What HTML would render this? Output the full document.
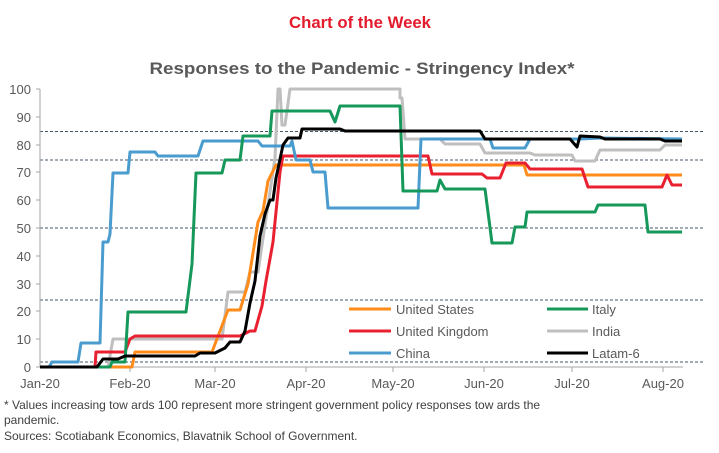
<!DOCTYPE html>
<html><head><meta charset="utf-8"><style>
html,body{margin:0;padding:0;background:#fff;}
svg{display:block;font-family:"Liberation Sans",Arial,sans-serif;}
</style></head><body>
<svg width="719" height="453" viewBox="0 0 719 453" xmlns="http://www.w3.org/2000/svg">
<text x="360" y="28" text-anchor="middle" font-size="17" font-weight="bold" fill="#e31b2d" textLength="142" lengthAdjust="spacingAndGlyphs">Chart of the Week</text>
<text x="362" y="74" text-anchor="middle" font-size="17" font-weight="bold" fill="#595959" textLength="425" lengthAdjust="spacingAndGlyphs">Responses to the Pandemic  - Stringency Index*</text>
<g stroke="#44546a" stroke-width="1" stroke-dasharray="3,2">
<line x1="40" y1="131.5" x2="703" y2="131.5"/>
<line x1="40" y1="160" x2="703" y2="160"/>
<line x1="40" y1="228" x2="703" y2="228"/>
<line x1="40" y1="300" x2="703" y2="300"/>
<line x1="40" y1="362" x2="703" y2="362"/>
</g>
<g stroke="#a6a6a6" stroke-width="1">
<line x1="40" y1="89" x2="40" y2="367"/>
<line x1="40" y1="367" x2="683" y2="367"/>
<line x1="36" y1="89" x2="40" y2="89"/><line x1="36" y1="117" x2="40" y2="117"/><line x1="36" y1="145" x2="40" y2="145"/><line x1="36" y1="172" x2="40" y2="172"/><line x1="36" y1="200" x2="40" y2="200"/><line x1="36" y1="228" x2="40" y2="228"/><line x1="36" y1="256" x2="40" y2="256"/><line x1="36" y1="284" x2="40" y2="284"/><line x1="36" y1="311" x2="40" y2="311"/><line x1="36" y1="339" x2="40" y2="339"/><line x1="36" y1="367" x2="40" y2="367"/>
<line x1="130" y1="367" x2="130" y2="372"/><line x1="215" y1="367" x2="215" y2="372"/><line x1="306" y1="367" x2="306" y2="372"/><line x1="393" y1="367" x2="393" y2="372"/><line x1="484" y1="367" x2="484" y2="372"/><line x1="572" y1="367" x2="572" y2="372"/><line x1="663" y1="367" x2="663" y2="372"/>
</g>
<g font-size="13" fill="#595959" text-anchor="end">
<text x="31" y="94">100</text><text x="31" y="122">90</text><text x="31" y="150">80</text><text x="31" y="177">70</text><text x="31" y="205">60</text><text x="31" y="233">50</text><text x="31" y="261">40</text><text x="31" y="289">30</text><text x="31" y="316">20</text><text x="31" y="344">10</text><text x="31" y="372">0</text>
</g>
<g font-size="13" fill="#595959" text-anchor="middle">
<text x="40" y="388">Jan-20</text><text x="130" y="388">Feb-20</text><text x="215" y="388">Mar-20</text><text x="306" y="388">Apr-20</text><text x="393" y="388">May-20</text><text x="484" y="388">Jun-20</text><text x="572" y="388">Jul-20</text><text x="663" y="388">Aug-20</text>
</g>
<g fill="none" stroke-width="3" stroke-linejoin="round">
<polyline stroke="#bfbfbf" points="40,367 108,367 113,339 222,339 228,292 245,292 250,272 258,272 275,158 278,89 280,89 282,125 285,125 290,89 400,89 400,98 402,98 405,139 440,139 445,144 480,144 485,153 530,153 535,155 572,155 575,161 595,161 600,150 660,150 665,145 682,145"/>
<polyline stroke="#ff8c1a" points="40,367 132,367 135,352 212,352 228,310 240,310 248,284 258,222 263,211 268,181 276,165 524,165 527,175 682,175"/>
<polyline stroke="#e8202f" points="40,367 95,367 96,352 125,352 130,339 135,336 240,336 250,331 255,331 262,306 266,281 273,242 280,172 283,156 428,156 432,174 482,174 487,178 500,178 506,163 525,163 530,169 582,169 588,187 662,187 667,175 672,185 682,185"/>
<polyline stroke="#4a9ccf" points="40,367 49,367 52,362 78,362 81,343 100,343 103,242 108,242 110,234 113,173 128,173 130,152 155,152 158,156 198,156 203,141 258,141 262,146 290,146 292,141 296,160 310,160 313,172 325,172 328,208 418,208 421,139 490,139 493,148 525,148 530,139 580,139 600,138 682,139"/>
<polyline stroke="#16985a" points="40,367 110,367 112,362 125,362 128,312 186,312 192,264 196,173 222,173 225,160 240,160 243,136 270,136 272,111 330,111 335,122 340,106 400,106 403,191 437,191 440,180 445,189 485,189 492,243 512,243 515,227 525,227 527,212 595,212 598,205 645,205 648,232 682,232"/>
<polyline stroke="#000000" points="40,367 97,367 103,359 118,359 125,356 195,356 200,353 215,353 225,348 230,342 240,342 245,331 250,303 255,281 260,236 265,214 270,200 273,200 276,178 283,145 288,138 300,138 302,129 340,129 345,131 480,131 485,139 570,139 577,147 580,136 600,137 605,139 660,139 665,141 682,141"/>
</g>
<g stroke-width="3">
<line x1="349" y1="309" x2="391" y2="309" stroke="#ff8c1a"/>
<line x1="349" y1="331" x2="391" y2="331" stroke="#e8202f"/>
<line x1="349" y1="353" x2="391" y2="353" stroke="#4a9ccf"/>
<line x1="547" y1="309" x2="588" y2="309" stroke="#16985a"/>
<line x1="547" y1="331" x2="588" y2="331" stroke="#bfbfbf"/>
<line x1="547" y1="353" x2="588" y2="353" stroke="#000"/>
</g>
<g font-size="13" fill="#595959">
<text x="396" y="314">United States</text><text x="396" y="336">United Kingdom</text><text x="396" y="358">China</text>
<text x="592" y="314">Italy</text><text x="592" y="336">India</text><text x="592" y="358">Latam-6</text>
</g>
<g font-size="12" fill="#404040">
<text x="4" y="409">* Values increasing tow ards 100 represent more stringent government policy responses tow ards the</text>
<text x="4" y="424">pandemic.</text>
<text x="4" y="440">Sources: Scotiabank Economics,  Blavatnik School of Government.</text>
</g>
</svg>
</body></html>
